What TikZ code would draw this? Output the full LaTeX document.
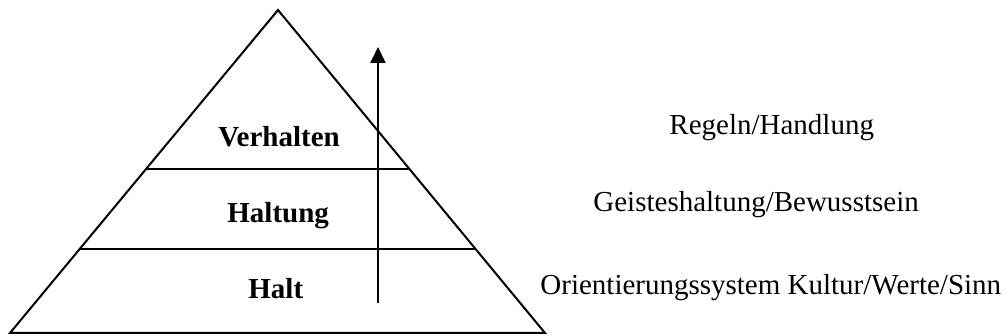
\documentclass[tikz,border=0pt]{standalone}
\usepackage{fontspec}
\setmainfont{Liberation Serif}
\usetikzlibrary{arrows.meta,calc}
\begin{document}
\begin{tikzpicture}[x=0.5pt,y=-0.5pt,
  pyr/.style={line width=1pt,line join=miter},
  lvl/.style={font=\fontsize{14.5}{17}\selectfont\bfseries,anchor=base west,inner sep=0pt},
  desc/.style={font=\fontsize{14.5}{17}\selectfont,anchor=base west,inner sep=0pt},
  uparrow/.style={line width=1pt,-{Triangle[width=7.5pt,length=8pt]}}]
\useasboundingbox (0,0) rectangle (1007,336);
\coordinate (apex) at (278,10);
\coordinate (bl) at (10,333);
\coordinate (br) at (545,333);
\draw[pyr] (apex) -- (bl) -- (br) -- cycle;
\coordinate (l1) at ($(apex)!0.4923!(bl)$);
\coordinate (r1) at ($(apex)!0.4923!(br)$);
\coordinate (l2) at ($(apex)!0.7399!(bl)$);
\coordinate (r2) at ($(apex)!0.7399!(br)$);
\draw[pyr] (l1) -- (r1);
\draw[pyr] (l2) -- (r2);
\coordinate (a0) at (378,303);
\coordinate (a1) at (378,47);
\draw[uparrow] (a0) -- (a1);
\node[lvl] (verh) at (218,147) {Verhalten};
\node[lvl] (halg) at (227,223) {Haltung};
\node[lvl] (halt) at (248,299) {Halt};
\node[desc] (d1) at (669,135) {Regeln/Handlung};
\node[desc] (d2) at (593,212) {Geisteshaltung/Bewusstsein};
\node[desc] (d3) at (540,295) {Orientierungssystem Kultur/Werte/Sinn};
\end{tikzpicture}
\end{document}
